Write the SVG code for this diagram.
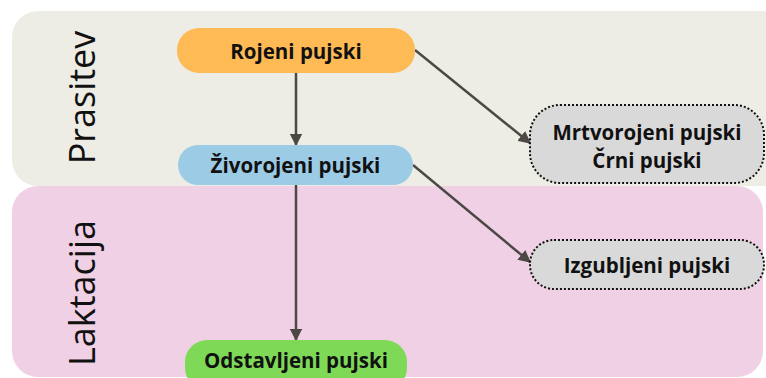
<svg xmlns="http://www.w3.org/2000/svg" width="766" height="378" viewBox="0 0 766 378">
<defs>
<style>
.lane-title{font-family:"Open Sans","Liberation Sans",sans-serif;font-size:36px;fill:#111;text-anchor:middle}
.lbl{font-family:"Open Sans","Liberation Sans",sans-serif;font-size:20.5px;font-weight:bold;fill:#111;text-anchor:middle;dominant-baseline:central}
.conn{stroke:#4d4845;stroke-width:2.5;fill:none;marker-end:url(#arr)}
.loss{fill:#d9d9d9;stroke:#111;stroke-width:2;stroke-dasharray:2 2}
</style>
<marker id="arr" viewBox="0 0 10 10" refX="9" refY="5" markerWidth="5" markerHeight="5" orient="auto" markerUnits="strokeWidth">
<path d="M0,0 L10,5 L0,10 z" fill="#4d4845"/>
</marker>
</defs>
<rect width="766" height="378" fill="#ffffff"/>
<g id="lane-prasitev">
<rect x="12" y="11" width="780" height="175" rx="26" fill="#eeede5"/>
<text class="lane-title" transform="translate(95,97.5) rotate(-90)">Prasitev</text>
</g>
<g id="lane-laktacija">
<rect x="12" y="186" width="751" height="191" rx="26" fill="#f0d0e4"/>
<text class="lane-title" transform="translate(95,293) rotate(-90)">Laktacija</text>
</g>
<g id="connectors">
<line class="conn" x1="296" y1="73" x2="296" y2="145"/>
<line class="conn" x1="296" y1="185" x2="296" y2="340"/>
<line class="conn" x1="415" y1="50" x2="530" y2="143"/>
<line class="conn" x1="413" y1="165" x2="530" y2="262"/>
</g>
<g id="node-rojeni">
<rect x="177" y="28" width="238" height="45" rx="22" fill="#fdba55"/>
<text class="lbl" x="296" y="50.5">Rojeni pujski</text>
</g>
<g id="node-zivorojeni">
<rect x="178" y="145" width="235" height="40" rx="20" fill="#9ccbe6"/>
<text class="lbl" x="295.5" y="165">Živorojeni pujski</text>
</g>
<g id="node-odstavljeni">
<rect x="185" y="340" width="222" height="50" rx="22" fill="#7ed957"/>
<text class="lbl" x="296" y="360">Odstavljeni pujski</text>
</g>
<g id="node-mrtvorojeni">
<rect class="loss" x="530" y="105" width="234" height="78" rx="30"/>
<text class="lbl" x="647" y="132">Mrtvorojeni pujski</text>
<text class="lbl" x="647" y="160">Črni pujski</text>
</g>
<g id="node-izgubljeni">
<rect class="loss" x="530" y="240" width="234" height="49" rx="24"/>
<text class="lbl" x="647" y="264.5">Izgubljeni pujski</text>
</g>
</svg>
